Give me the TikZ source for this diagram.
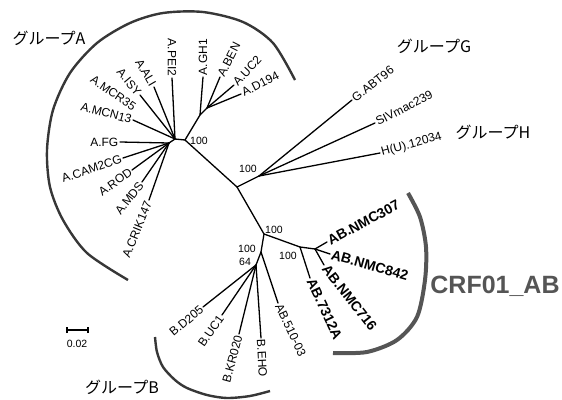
\documentclass[tikz,border=0pt]{standalone}
\usepackage{fontspec}
\setmainfont{Liberation Sans}
\newfontfamily\jp{Noto Sans CJK JP}
\definecolor{arcgray}{RGB}{55,55,55}
\definecolor{crfgray}{RGB}{85,85,85}
\begin{document}
\begin{tikzpicture}[x=1pt,y=-1pt,
  br/.style={line width=1.3pt, line cap=round},
  lf/.style={font=\fontsize{12}{12}\selectfont, inner sep=1.5pt},
  lfb/.style={font=\fontsize{14}{14}\selectfont\bfseries, inner sep=1.5pt},
  bs/.style={font=\fontsize{10.5}{10.5}\selectfont, inner sep=0pt},
  grp/.style={font=\fontsize{16}{16}\jp\selectfont, inner sep=0pt},
  clade/.style={line width=2.4pt, draw=arcgray},
  crf/.style={line width=4pt, draw=crfgray}]
\useasboundingbox (0,0) rectangle (562,399);

% internal nodes
\coordinate (C0) at (237,187);
\coordinate (NA) at (185,140);
\coordinate (NA1) at (175,139);
\coordinate (NA2) at (169,143);
\coordinate (NA3) at (200,115);
\coordinate (NA4) at (207,108);
\coordinate (NGH) at (259,176);
\coordinate (NC) at (264,234);
\coordinate (NB1) at (261,252);
\coordinate (NB) at (256,265);
\coordinate (NAB) at (300,247);
\coordinate (NAB2) at (315,249);

% leaves
\coordinate (PEI2) at (172,78);
\coordinate (ALI) at (154,87);
\coordinate (ISY) at (140,95);
\coordinate (MCN13) at (133,120);
\coordinate (FG) at (120,142);
\coordinate (CAM) at (123,158);
\coordinate (ROD) at (132,170);
\coordinate (MDS) at (142,182);
\coordinate (CRIK) at (149,200);
\coordinate (GH1) at (203,77);
\coordinate (BEN) at (220,77);
\coordinate (UC2) at (234,85);
\coordinate (D194) at (241,94);
\coordinate (GABT) at (352,100);
\coordinate (SIV) at (375,123);
\coordinate (HU) at (380,153);
\coordinate (D205) at (203,307);
\coordinate (UC1) at (222,315);
\coordinate (KR) at (239,334);
\coordinate (EHO) at (261,338);
\coordinate (AB510) at (278,303);
\coordinate (T7312) at (310,278);
\coordinate (N307) at (327,242);
\coordinate (N842) at (330,254);
\coordinate (N716) at (324,265);

% branches
\draw[br] (C0) -- (NA) -- (NA1) -- (NA2);
\draw[br] (C0) -- (NGH);
\draw[br] (C0) -- (NC) -- (NB1) -- (NB);
\draw[br] (NC) -- (NAB) -- (NAB2);
\draw[br] (NA) -- (NA3) -- (NA4);
\foreach \l in {PEI2,ALI,ISY,MCN13} \draw[br] (NA1) -- (\l);
\foreach \l in {FG,CAM,ROD,MDS,CRIK} \draw[br] (NA2) -- (\l);
\draw[br] (NA3) -- (GH1);
\foreach \l in {BEN,UC2,D194} \draw[br] (NA4) -- (\l);
\foreach \l in {GABT,SIV,HU} \draw[br] (NGH) -- (\l);
\foreach \l in {D205,UC1,KR,EHO} \draw[br] (NB) -- (\l);
\draw[br] (NB1) -- (AB510);
\draw[br] (NAB) -- (T7312);
\foreach \l in {N307,N842,N716} \draw[br] (NAB2) -- (\l);

% leaf labels
\node[lf, rotate=-90, anchor=east] (lPEI2) at (PEI2) {A.PEI2};
\node[lf, rotate=-60, anchor=east] (lALI) at (ALI) {A.ALI};
\node[lf, rotate=-50, anchor=east] (lISY) at (ISY) {A.ISY};
\node[lf, rotate=-35, anchor=east] (lMCR) at (136,109) {A.MCR35};
\node[lf, rotate=-15, anchor=east] (lMCN) at (MCN13) {A.MCN13};
\node[lf, anchor=east] (lFG) at (FG) {A.FG};
\node[lf, rotate=19, anchor=east] (lCAM) at (CAM) {A.CAM2CG};
\node[lf, rotate=36, anchor=east] (lROD) at (ROD) {A.ROD};
\node[lf, rotate=52, anchor=east] (lMDS) at (MDS) {A.MDS};
\node[lf, rotate=68, anchor=east] (lCRIK) at (CRIK) {A.CRIK147};
\node[lf, rotate=90, anchor=west] (lGH1) at (GH1) {A.GH1};
\node[lf, rotate=63, anchor=west] (lBEN) at (BEN) {A.BEN};
\node[lf, rotate=47, anchor=west] (lUC2) at (UC2) {A.UC2};
\node[lf, rotate=27, anchor=west] (lD194) at (D194) {A.D194};
\node[lf, rotate=38, anchor=west] (lG) at (GABT) {G.ABT96};
\node[lf, rotate=27, anchor=west] (lSIV) at (SIV) {SIVmac239};
\node[lf, rotate=15, anchor=west] (lH) at (HU) {H(U).12034};
\node[lf, rotate=40, anchor=east] (lD205) at (D205) {B.D205};
\node[lf, rotate=55, anchor=east] (lUC1) at (UC1) {B.UC1};
\node[lf, rotate=75, anchor=east] (lKR) at (KR) {B.KR020};
\node[lf, rotate=-87, anchor=west] (lEHO) at (EHO) {B.EHO};
\node[lf, rotate=-65, anchor=west] (l510) at (AB510) {AB.510-03};
\node[lfb, rotate=-65, anchor=west] (l7312) at (T7312) {AB.7312A};
\node[lfb, rotate=28, anchor=west] (l307) at (N307) {AB.NMC307};
\node[lfb, rotate=-16, anchor=west] (l842) at (N842) {AB.NMC842};
\node[lfb, rotate=-52, anchor=west] (l716) at (N716) {AB.NMC716};

% bootstrap values
\node[bs, anchor=west] (bA) at (190,141) {100};
\node[bs] (bGH) at (248,169) {100};
\node[bs] (bC) at (274,230) {100};
\node[bs] (bAB) at (288,256) {100};
\node[bs] (bB1) at (247,249) {100};
\node[bs] (bB2) at (245,262) {64};

% clade arcs
\draw[clade] plot[smooth] coordinates {(295,80) (273,43) (243,22) (203,12) (163,13) (130,23) (97,43) (70,73) (53,110) (47,150) (50,187) (63,220) (87,253) (128,280)};
\draw[clade] plot[smooth] coordinates {(155,337) (157,352) (163,367) (175,380) (187,388) (207,395) (227,398) (250,396) (270,391)};
\draw[crf] plot[smooth] coordinates {(408,193) (420,217) (426,247) (425,280) (417,317) (397,340) (367,352) (333,353)};

% group labels
\node[grp] (gA) at (49,38) {グループA};
\node[grp] (gG) at (434,46) {グループG};
\node[grp] (gH) at (493,132) {グループH};
\node[grp] (gB) at (122,387) {グループB};
\node[font=\fontsize{25}{25}\selectfont\bfseries, text=crfgray, inner sep=0pt] (gCRF) at (495,286) {CRF01\_AB};

% scale bar
\coordinate (s1) at (67,330);
\coordinate (s2) at (88,330);
\draw[line width=1.3pt] (s1) -- (s2);
\draw[line width=1.3pt] ([yshift=-3pt]s1) -- ([yshift=3pt]s1);
\draw[line width=1.3pt] ([yshift=-3pt]s2) -- ([yshift=3pt]s2);
\node[bs] (sl) at (77,344) {0.02};
\end{tikzpicture}
\end{document}
